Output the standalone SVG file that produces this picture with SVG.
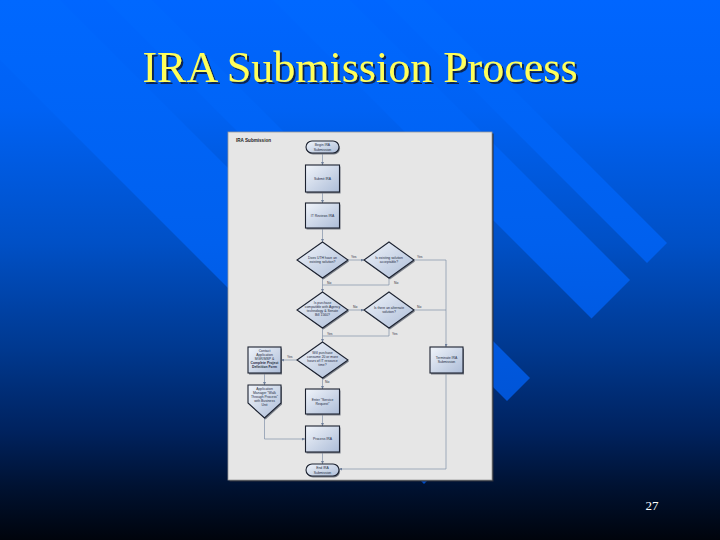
<svg xmlns="http://www.w3.org/2000/svg" width="720" height="540" viewBox="0 0 720 540">
<defs>
  <linearGradient id="bg" x1="0" y1="0" x2="0" y2="540" gradientUnits="userSpaceOnUse">
    <stop offset="0" stop-color="#0066ff"/>
    <stop offset="0.2" stop-color="#0062f4"/>
    <stop offset="0.45" stop-color="#0050c6"/>
    <stop offset="0.65" stop-color="#00388e"/>
    <stop offset="0.8" stop-color="#00225e"/>
    <stop offset="0.9" stop-color="#001232"/>
    <stop offset="1" stop-color="#00040c"/>
  </linearGradient>
  <linearGradient id="stripe" x1="0" y1="0" x2="0" y2="540" gradientUnits="userSpaceOnUse">
    <stop offset="0" stop-color="#0068ff"/>
    <stop offset="0.45" stop-color="#0060ee"/>
    <stop offset="0.75" stop-color="#0054d6"/>
    <stop offset="1" stop-color="#0048bc"/>
  </linearGradient>
  <linearGradient id="node" x1="0" y1="0" x2="1" y2="1">
    <stop offset="0" stop-color="#f0f4fa"/>
    <stop offset="1" stop-color="#adbdd8"/>
  </linearGradient>
  <filter id="tsh" x="-5%" y="-20%" width="110%" height="140%">
    <feDropShadow dx="2" dy="2" stdDeviation="0.6" flood-color="#0a1a40" flood-opacity="0.9"/>
  </filter>
  <marker id="ah" viewBox="0 0 6 6" refX="6" refY="3" markerWidth="3" markerHeight="3" orient="auto" markerUnits="userSpaceOnUse">
    <path d="M0,0 L6,3 L0,6 z" fill="#6f7f9a"/>
  </marker>
  <style>
    .title{font-family:"Liberation Serif","Times New Roman",serif;font-size:44px;fill:#ffff5a;}
    .pg{font-family:"Liberation Serif","Times New Roman",serif;font-size:13px;fill:#ffffff;}
    .nd{fill:url(#node);stroke:#1c2230;stroke-width:1.1;}
    .sh{fill:#7a7f88;}
    .t{font-family:"Liberation Sans",Arial,sans-serif;font-size:3.4px;fill:#1e2a40;text-anchor:middle;}
    .lb{font-family:"Liberation Sans",Arial,sans-serif;font-size:3.4px;fill:#334;}
    .hd{font-family:"Liberation Sans",Arial,sans-serif;font-size:4.6px;font-weight:bold;fill:#222;}
    .c{fill:none;stroke:#7f8fa8;stroke-width:0.7;}
    .ca{fill:none;stroke:#7f8fa8;stroke-width:0.7;marker-end:url(#ah);}
  </style>
</defs>

<rect width="720" height="540" fill="url(#bg)"/>
<g id="stripes" fill="url(#stripe)">
  <polygon points="424,0 667,243 647,263 384,0"/>
  <polygon points="350,0 630,280 591.5,318.5 273,0"/>
  <polygon points="152,0 530,378 507,401 106,0"/>
  <polygon points="60,0 484,424 424,484 -60,0"/>
</g>

<g id="title">
  <text class="title" x="360" y="82" text-anchor="middle" filter="url(#tsh)">IRA Submission Process</text>
</g>
<text id="page" class="pg" x="652" y="510" text-anchor="middle">27</text>

<g id="panel">
  <rect x="229.5" y="133.5" width="264" height="348" fill="#2a2f3a"/>
  <rect x="228" y="132" width="264" height="348" fill="#e6e6e6" stroke="#9a9a9a" stroke-width="0.8"/>
  <text class="hd" x="236" y="142">IRA Submission</text>
</g>

<g id="connectors">
  <path class="ca" d="M322.5,153 V165"/>
  <path class="ca" d="M322.5,192 V203"/>
  <path class="ca" d="M322.5,228 V242"/>
  <path class="ca" d="M348,260 H364"/>
  <path class="ca" d="M414,260 H446 V347"/>
  <path class="ca" d="M322.5,278 V292"/>
  <path class="c" d="M389,278 V285 H322.5"/>
  <path class="ca" d="M348,310 H364"/>
  <path class="c" d="M414,310 H446"/>
  <path class="ca" d="M322.5,328 V342"/>
  <path class="c" d="M389,328 V336 H322.5"/>
  <path class="ca" d="M298,360 H281"/>
  <path class="ca" d="M264.5,373 V385"/>
  <path class="ca" d="M264.5,418 V439 H305"/>
  <path class="ca" d="M322.5,378 V389"/>
  <path class="ca" d="M322.5,414 V426"/>
  <path class="ca" d="M322.5,452 V464"/>
  <path class="ca" d="M446,373 V469 H339"/>
  <text class="lb" x="351" y="258">Yes</text>
  <text class="lb" x="417" y="258">Yes</text>
  <text class="lb" x="327" y="283.5">No</text>
  <text class="lb" x="394" y="283.5">No</text>
  <text class="lb" x="353" y="308">No</text>
  <text class="lb" x="417" y="308">No</text>
  <text class="lb" x="327" y="334.5">Yes</text>
  <text class="lb" x="392" y="334.5">Yes</text>
  <text class="lb" x="287" y="358">Yes</text>
  <text class="lb" x="325" y="382.5">No</text>
</g>

<g id="begin">
  <rect class="sh" x="307" y="142.5" width="33" height="12" rx="6"/>
  <rect class="nd" x="306" y="141" width="33" height="12" rx="6"/>
  <text class="t" x="322.5" y="146.3">Begin IRA</text>
  <text class="t" x="322.5" y="150.5">Submission</text>
</g>
<g id="submit">
  <rect class="sh" x="306.5" y="166.5" width="34" height="27"/>
  <rect class="nd" x="305.5" y="165" width="34" height="27"/>
  <text class="t" x="322.5" y="179.5">Submit IRA</text>
</g>
<g id="review">
  <rect class="sh" x="306.5" y="204.5" width="34" height="25"/>
  <rect class="nd" x="305.5" y="203" width="34" height="25"/>
  <text class="t" x="322.5" y="216.5">IT Reviews IRA</text>
</g>
<g id="d1">
  <polygon class="sh" points="323.5,243.5 349,261.5 323.5,279.5 299,261.5"/>
  <polygon class="nd" points="322.5,242 348,260 322.5,278 297,260"/>
  <text class="t" x="322.5" y="259">Does UTH have an</text>
  <text class="t" x="322.5" y="263">existing solution?</text>
</g>
<g id="d2">
  <polygon class="sh" points="390,243.5 415,261.5 390,279.5 365,261.5"/>
  <polygon class="nd" points="389,242 414,260 389,278 364,260"/>
  <text class="t" x="389" y="259">Is existing solution</text>
  <text class="t" x="389" y="263">acceptable?</text>
</g>
<g id="d3">
  <polygon class="sh" points="323.5,293.5 349,311.5 323.5,329.5 299,311.5"/>
  <polygon class="nd" points="322.5,292 348,310 322.5,328 297,310"/>
  <text class="t" x="322.5" y="304">Is purchase</text>
  <text class="t" x="322.5" y="308">compatible with Agency</text>
  <text class="t" x="322.5" y="312">technology &amp; Senate</text>
  <text class="t" x="322.5" y="316">Bill 1560?</text>
</g>
<g id="d4">
  <polygon class="sh" points="390,293.5 415,311.5 390,329.5 365,311.5"/>
  <polygon class="nd" points="389,292 414,310 389,328 364,310"/>
  <text class="t" x="389" y="309">Is there an alternate</text>
  <text class="t" x="389" y="313">solution?</text>
</g>
<g id="d5">
  <polygon class="sh" points="323.5,343.5 349,361.5 323.5,379.5 299,361.5"/>
  <polygon class="nd" points="322.5,342 348,360 322.5,378 297,360"/>
  <text class="t" x="322.5" y="354">Will purchase</text>
  <text class="t" x="322.5" y="358">consume 20 or more</text>
  <text class="t" x="322.5" y="362">hours of IT resource</text>
  <text class="t" x="322.5" y="366">time?</text>
</g>
<g id="contact">
  <rect class="sh" x="249" y="348.5" width="33" height="26"/>
  <rect class="nd" x="248" y="347" width="33" height="26" stroke-width="1.6"/>
  <text class="t" x="264.5" y="352">Contact</text>
  <text class="t" x="264.5" y="356">Application</text>
  <text class="t" x="264.5" y="360">MGR/MSP &amp;</text>
  <text class="t" x="264.5" y="364" font-weight="bold">Complete Project</text>
  <text class="t" x="264.5" y="368" font-weight="bold">Definition Form</text>
</g>
<g id="walk">
  <polygon class="sh" points="249,386.5 282,386.5 282,404.5 265.5,419.5 249,404.5"/>
  <polygon class="nd" points="248,385 281,385 281,403 264.5,418 248,403"/>
  <text class="t" x="264.5" y="390">Application</text>
  <text class="t" x="264.5" y="394">Manager "Walk</text>
  <text class="t" x="264.5" y="398">Through Process"</text>
  <text class="t" x="264.5" y="402">with Business</text>
  <text class="t" x="264.5" y="406">Unit</text>
</g>
<g id="service">
  <rect class="sh" x="306.5" y="390.5" width="34" height="25"/>
  <rect class="nd" x="305.5" y="389" width="34" height="25"/>
  <text class="t" x="322.5" y="400.5">Enter "Service</text>
  <text class="t" x="322.5" y="404.5">Request"</text>
</g>
<g id="process">
  <rect class="sh" x="306.5" y="427.5" width="34" height="26"/>
  <rect class="nd" x="305.5" y="426" width="34" height="26"/>
  <text class="t" x="322.5" y="440">Process IRA</text>
</g>
<g id="end">
  <rect class="sh" x="307" y="465.5" width="33" height="12" rx="6"/>
  <rect class="nd" x="306" y="464" width="33" height="12" rx="6"/>
  <text class="t" x="322.5" y="469.3">End IRA</text>
  <text class="t" x="322.5" y="473.5">Submission</text>
</g>
<g id="terminate">
  <rect class="sh" x="431" y="348.5" width="33" height="26"/>
  <rect class="nd" x="430" y="347" width="33" height="26"/>
  <text class="t" x="446.5" y="359">Terminate IRA</text>
  <text class="t" x="446.5" y="363">Submission</text>
</g>
</svg>
